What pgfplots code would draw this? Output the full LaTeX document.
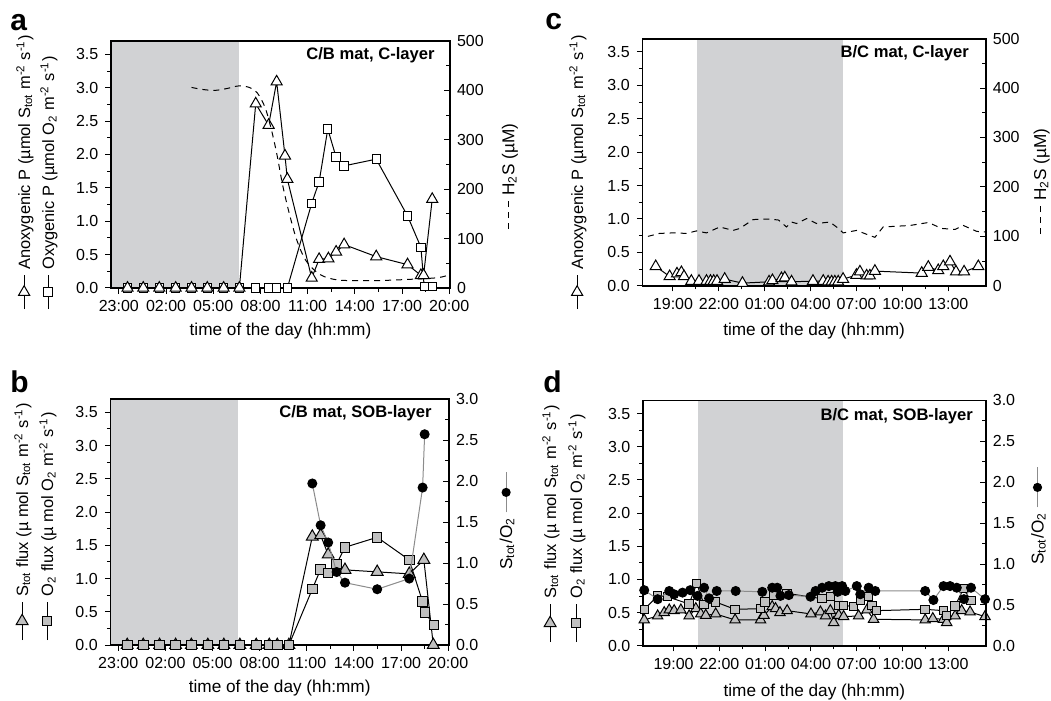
\documentclass[border=0pt]{standalone}
\usepackage{fontspec}
\setmainfont{Liberation Sans}
\usepackage{pgfplots}
\pgfplotsset{compat=1.18}
\usetikzlibrary{plotmarks}

\definecolor{shade}{RGB}{209,210,212}
\definecolor{mkgray}{RGB}{192,192,192}
\definecolor{lngray}{RGB}{140,140,140}

\newcommand{\lbl}{\fontsize{8.6}{10}\selectfont}
\newcommand{\ylbl}{\fontsize{8.2}{10}\selectfont}
\newcommand{\ttl}{\fontsize{8.3}{10}\selectfont\bfseries}
\newcommand{\pnl}{\fontsize{15}{17}\selectfont\bfseries}
\newcommand{\lo}[1]{\textsubscript{#1}}
\newcommand{\hi}[1]{\textsuperscript{#1}}

\pgfplotsset{
  panel/.style={
    scale only axis, anchor=south west,
    axis line style={line width=0.9pt},
    tick style={line width=0.5pt, black},
    major tick length=2.8pt, minor tick length=1.8pt,
    tick align=outside,
    xtick pos=bottom, ytick pos=left,
    minor x tick num=1, minor y tick num=1,
    ymin=0, ymax=3.7,
    ytick={0,0.5,1,1.5,2,2.5,3,3.5},
    yticklabel style={/pgf/number format/.cd, fixed, fixed zerofill, precision=1},
    tick label style={font=\fontsize{8}{9}\selectfont},
    /pgf/number format/assume math mode=true,
    label style={font=\lbl},
    xlabel={time of the day (hh:mm)},
    axis on top,
  },
  rightax/.style={
    scale only axis, anchor=south west,
    axis y line*=right, axis x line=none,
    axis line style={line width=0.9pt},
    tick style={line width=0.5pt, black},
    major tick length=2.8pt, minor tick length=1.8pt,
    tick align=inside, ytick pos=right,
    minor y tick num=1,
    tick label style={font=\fontsize{8}{9}\selectfont},
    /pgf/number format/assume math mode=true,
  },
  abx/.style={xmin=22.5, xmax=44.05, xtick={23,26,29,32,35,38,41,44},
    xticklabels={23:00,02:00,05:00,08:00,11:00,14:00,17:00,20:00}},
  cdx/.style={xmin=17, xmax=39.45, xtick={19,22,25,28,31,34,37},
    xticklabels={19:00,22:00,01:00,04:00,07:00,10:00,13:00}},
  ratio/.style={ymin=0, ymax=3, ytick={0,0.5,1,1.5,2,2.5,3},
    yticklabel style={/pgf/number format/.cd, fixed, fixed zerofill, precision=1}},
  hs/.style={ymin=0, ymax=500, ytick={0,100,200,300,400,500}},
  triW/.style={black, line width=0.5pt, mark=triangle*, mark size=3.2pt,
    mark options={fill=white, draw=black, solid}},
  sqW/.style={black, line width=0.5pt, mark=square*, mark size=2.1pt,
    mark options={fill=white, draw=black, solid}},
  triG/.style={black, line width=0.5pt, mark=triangle*, mark size=3.4pt,
    mark options={fill=mkgray, draw=black, solid}},
  sqG/.style={black, line width=0.5pt, mark=square*, mark size=2.4pt,
    mark options={fill=mkgray, draw=black, solid}},
  circ/.style={lngray, line width=0.5pt, mark=*, mark size=2.25pt,
    mark options={fill=black, draw=black, solid}},
  hsline/.style={black, line width=0.5pt, dash pattern=on 3pt off 2.5pt},
}

\newsavebox{\symtriW}
\newsavebox{\symtriG}
\newsavebox{\symsqW}
\newsavebox{\symsqG}
\newsavebox{\symcirc}
\newsavebox{\symdash}

\begin{document}%
\sbox{\symtriW}{\tikz[baseline=-3pt]{\draw[line width=0.5pt] (0,0)--(17pt,0);%
  \begin{scope}[shift={(8.5pt,0)}, rotate=-90]\pgfsetlinewidth{0.5pt}\pgfsetfillcolor{white}\pgfsetplotmarksize{3.2pt}\pgfuseplotmark{triangle*}\end{scope}}}%
\sbox{\symtriG}{\tikz[baseline=-3pt]{\draw[line width=0.5pt] (0,0)--(19pt,0);%
  \begin{scope}[shift={(9.5pt,0)}, rotate=-90]\pgfsetlinewidth{0.5pt}\pgfsetfillcolor{mkgray}\pgfsetplotmarksize{3.4pt}\pgfuseplotmark{triangle*}\end{scope}}}%
\sbox{\symsqW}{\tikz[baseline=-3pt]{\draw[line width=0.5pt] (0,0)--(17pt,0);%
  \begin{scope}[shift={(8.5pt,0)}]\pgfsetlinewidth{0.5pt}\pgfsetfillcolor{white}\pgfsetplotmarksize{2.3pt}\pgfuseplotmark{square*}\end{scope}}}%
\sbox{\symsqG}{\tikz[baseline=-3pt]{\draw[line width=0.5pt] (0,0)--(19pt,0);%
  \begin{scope}[shift={(9.5pt,0)}]\pgfsetlinewidth{0.5pt}\pgfsetfillcolor{mkgray}\pgfsetplotmarksize{2.4pt}\pgfuseplotmark{square*}\end{scope}}}%
\sbox{\symcirc}{\tikz[baseline=-3pt]{\draw[line width=0.5pt, lngray] (0,0)--(20pt,0);%
  \fill[black] (10pt,0) circle (2.3pt);}}%
\sbox{\symdash}{\tikz[baseline=-3pt]{\draw[line width=0.5pt, dash pattern=on 3pt off 2.5pt] (0,0)--(14pt,0);}}%
\begin{tikzpicture}
\useasboundingbox (0,0) rectangle (525.5pt,-350.5pt);

% ---------------- panel a ----------------
\begin{axis}[panel, abx, at={(55.5pt,-144pt)}, width=169.5pt, height=123.5pt,
  xlabel style={at={(axis description cs:0.5,-0.174)}, anchor=center}]
\addplot[fill=shade, draw=none, forget plot] coordinates {(22,-1) (30.62,-1) (30.62,4) (22,4)} -- cycle;
\addplot[sqW] coordinates {(23.55,0) (24.55,0) (25.57,0) (26.61,0) (27.62,0) (28.62,0) (29.66,0) (30.66,0)
  (31.70,0) (32.52,0) (33.03,0) (33.71,0) (35.26,1.27) (35.73,1.59) (36.28,2.38) (36.81,1.96)
  (37.32,1.83) (39.36,1.93) (41.35,1.08) (42.20,0.61) (42.41,0.02) (42.94,0.02)};
\addplot[triW] coordinates {(23.55,0) (24.55,0) (25.57,0) (26.61,0) (27.62,0) (28.62,0) (29.66,0) (30.66,0)
  (31.70,2.76) (32.52,2.44) (33.03,3.09) (33.56,1.98) (33.71,1.63) (35.26,0.15) (35.73,0.43)
  (36.32,0.44) (36.81,0.54) (37.32,0.65) (39.36,0.47) (41.35,0.35) (42.20,0.19) (42.37,0.19) (42.92,1.33)};
\node[anchor=east, inner sep=0, font=\ttl, xshift=-7.5pt, yshift=-7pt] at (rel axis cs:1,1) {C/B mat, C-layer};
\end{axis}
\begin{axis}[rightax, abx, hs, at={(55.5pt,-144pt)}, width=169.5pt, height=123.5pt]
\addplot[hsline, smooth] coordinates {(27.62,406) (28.3,402) (29.1,400) (29.9,404) (30.6,409) (31.3,406)
  (31.8,395) (32.3,365) (32.7,320) (33.05,270) (33.4,210) (33.8,155) (34.3,98) (34.9,55) (35.8,27)
  (37.0,16) (39.4,15) (41.8,18) (43.3,21) (44.05,27)};
\end{axis}

% ---------------- panel b ----------------
\begin{axis}[panel, abx, at={(55.2pt,-322.5pt)}, width=169.3pt, height=123pt,
  xlabel style={at={(axis description cs:0.5,-0.175)}, anchor=center}]
\addplot[fill=shade, draw=none, forget plot] coordinates {(22,-1) (30.62,-1) (30.62,4) (22,4)} -- cycle;
\addplot[triG] coordinates {(23.57,0) (24.59,0) (25.63,0) (26.65,0) (27.65,0) (28.7,0) (29.72,0) (30.74,0)
  (31.78,0) (32.61,0) (33.12,0) (33.86,0) (35.35,1.63) (35.88,1.65) (36.36,1.36) (37.43,1.13)
  (39.48,1.10) (41.52,1.07) (42.45,1.28) (43.05,0)};
\addplot[sqG] coordinates {(23.57,0) (24.59,0) (25.63,0) (26.65,0) (27.65,0) (28.7,0) (29.72,0) (30.74,0)
  (31.78,0) (32.61,0) (33.12,0) (33.86,0) (35.35,0.84) (35.88,1.14) (36.36,1.08) (36.9,1.22)
  (37.43,1.47) (39.48,1.62) (41.52,1.28) (42.37,0.65) (42.52,0.49) (43.09,0.30)};
\node[anchor=east, inner sep=0, font=\ttl, xshift=-8.5pt, yshift=-7pt] at (rel axis cs:1,1) {C/B mat, SOB-layer};
\end{axis}
\begin{axis}[rightax, abx, ratio, at={(55.2pt,-322.5pt)}, width=169.3pt, height=123pt]
\addplot[circ] coordinates {(35.35,1.97) (35.88,1.46) (36.36,1.25) (36.9,0.89) (37.43,0.76)
  (39.48,0.68) (41.52,0.81) (42.37,1.92) (42.5,2.57)};
\end{axis}

% ---------------- panel c ----------------
\begin{axis}[panel, cdx, at={(321.2pt,-142.9pt)}, width=171.7pt, height=123.6pt,
  xlabel style={at={(axis description cs:0.5,-0.183)}, anchor=center}]
\addplot[fill=shade, draw=none, forget plot] coordinates {(20.57,-1) (30.09,-1) (30.09,4) (20.57,4)} -- cycle;
\addplot[triW] coordinates {(17.87,0.29) (18.78,0.14) (19.26,0.18) (19.55,0.20) (19.72,0.14) (20.2,0.07)
  (20.7,0.07) (21.19,0.07) (21.45,0.07) (21.66,0.07) (21.88,0.07) (22.38,0.10) (23.54,0.04)
  (25.28,0.06) (25.5,0.08) (26.09,0.11) (26.31,0.12) (26.75,0.06) (28.15,0.07) (28.82,0.07)
  (29.14,0.06) (29.37,0.06) (29.58,0.06) (29.8,0.06) (30.12,0.10) (30.99,0.16) (31.22,0.21)
  (31.66,0.15) (31.87,0.15) (32.2,0.22) (35.26,0.19) (35.69,0.28) (36.34,0.23) (36.67,0.29)
  (37.11,0.36) (37.5,0.21) (38.03,0.21) (38.96,0.29)};
\node[anchor=east, inner sep=0, font=\ttl, xshift=-8.3pt, yshift=-7.3pt] at (rel axis cs:1,1) {B/C mat, C-layer};
\end{axis}
\begin{axis}[rightax, cdx, hs, at={(321.2pt,-142.9pt)}, width=171.7pt, height=123.6pt]
\addplot[hsline] coordinates {(17.36,100) (18.13,106) (19.0,107) (19.88,106) (20.53,111) (21.19,107)
  (22.06,119) (22.93,112) (23.37,116) (24.24,134) (25.33,135) (25.9,133) (26.42,119) (26.75,129)
  (27.08,126) (27.73,136) (28.38,126) (29.26,129) (29.69,119) (30.13,107) (31.0,112) (31.76,103)
  (32.2,98) (32.74,119) (34.49,122) (35.69,128) (36.57,116) (37.44,114) (37.98,122) (38.86,110) (39.4,109)};
\end{axis}

% ---------------- panel d ----------------
\begin{axis}[panel, cdx, at={(321.5pt,-322.9pt)}, width=171.4pt, height=122.7pt,
  xlabel style={at={(axis description cs:0.5,-0.189)}, anchor=center}]
\addplot[fill=shade, draw=none, forget plot] coordinates {(20.6,-1) (30.1,-1) (30.1,4) (20.6,4)} -- cycle;
\addplot[triG, mark size=3pt] coordinates {(17.08,0.39) (17.96,0.45) (18.39,0.50) (18.72,0.54) (19.04,0.53)
  (19.48,0.54) (20.02,0.45) (20.46,0.56) (20.78,0.48) (21.11,0.46) (21.76,0.48) (23.03,0.39)
  (24.70,0.39) (24.92,0.46) (25.46,0.59) (25.68,0.56) (25.97,0.50) (26.44,0.53) (28.00,0.48)
  (28.62,0.51) (28.95,0.45) (29.27,0.53) (29.49,0.35) (29.82,0.46) (30.14,0.44) (31.12,0.45)
  (31.67,0.54) (32.10,0.40) (35.48,0.39) (35.98,0.41) (36.68,0.40) (36.89,0.35) (37.44,0.45)
  (37.87,0.53) (38.42,0.51) (39.40,0.44)};
\addplot[sqG, mark size=2.1pt] coordinates {(17.08,0.55) (17.96,0.75) (18.60,0.74) (20.02,0.63) (20.52,0.94)
  (21.00,0.62) (21.76,0.66) (23.03,0.55) (24.70,0.56) (24.99,0.66) (25.57,0.76) (26.44,0.79)
  (28.73,0.71) (29.27,0.74) (29.82,0.61) (30.14,0.61) (30.80,0.59) (31.23,0.69) (31.78,0.74)
  (32.00,0.61) (32.28,0.53) (35.48,0.55) (36.68,0.53) (36.89,0.46) (37.44,0.60) (37.98,0.86) (38.48,0.68)};
\node[anchor=east, inner sep=0, font=\ttl, xshift=-6.3pt, yshift=-8pt] at (rel axis cs:1,1) {B/C mat, SOB-layer};
\end{axis}
\begin{axis}[rightax, cdx, ratio, at={(321.5pt,-322.9pt)}, width=171.4pt, height=122.7pt]
\addplot[circ] coordinates {(17.08,0.68) (17.96,0.57) (18.72,0.67) (19.04,0.63) (19.59,0.65) (20.09,0.68)
  (20.57,0.61) (21.00,0.71) (21.33,0.58) (21.83,0.67) (23.07,0.67) (24.81,0.66) (25.46,0.71)
  (25.79,0.71) (26.00,0.61) (26.55,0.62) (27.97,0.60) (28.30,0.67) (28.73,0.71) (29.17,0.73)
  (29.60,0.73) (29.75,0.66) (30.04,0.73) (30.25,0.67) (31.00,0.73) (31.23,0.63) (31.78,0.71)
  (32.21,0.67) (35.48,0.67) (36.02,0.56) (36.68,0.73) (37.11,0.73) (37.55,0.71) (38.02,0.57)
  (38.48,0.71) (39.40,0.57)};
\end{axis}

% ---------------- panel letters ----------------
\node[anchor=base west, inner sep=0, font=\pnl] at (5pt,-15.5pt) {a};
\node[anchor=base west, inner sep=0, font=\pnl] at (5pt,-196pt) {b};
\node[anchor=base west, inner sep=0, font=\pnl] at (272.5pt,-15pt) {c};
\node[anchor=base west, inner sep=0, font=\pnl] at (271.5pt,-196pt) {d};

% ---------------- y labels ----------------
\node[rotate=90, anchor=west, inner sep=0, font=\ylbl] at (12.5pt,-155pt)
  {\usebox{\symtriW}\hspace{2.5pt}Anoxygenic P (µmol S\lo{tot} m\hi{-2} s\hi{-1})};
\node[rotate=90, anchor=west, inner sep=0, font=\ylbl] at (24.5pt,-155pt)
  {\usebox{\symsqW}\hspace{2.5pt}Oxygenic P (µmol O\lo{2} m\hi{-2} s\hi{-1})};
\node[rotate=90, anchor=west, inner sep=0, font=\lbl] at (255pt,-115pt)
  {\usebox{\symdash}\hspace{2.5pt}H\lo{2}S (µM)};

\node[rotate=90, anchor=west, inner sep=0, font=\ylbl] at (11.5pt,-320.5pt)
  {\usebox{\symtriG}\hspace{2.5pt}S\lo{tot} flux (µ mol S\lo{tot} m\hi{-2} s\hi{-1})};
\node[rotate=90, anchor=west, inner sep=0, font=\ylbl] at (24pt,-320.5pt)
  {\usebox{\symsqG}\hspace{2.5pt}O\lo{2} flux (µ mol O\lo{2} m\hi{-2} s\hi{-1})};
\node[rotate=90, anchor=west, inner sep=0, font=\lbl] at (253.5pt,-285pt)
  {S\lo{tot}/O\lo{2}\hspace{2.5pt}\usebox{\symcirc}};

\node[rotate=90, anchor=west, inner sep=0, font=\ylbl] at (289pt,-155pt)
  {\usebox{\symtriW}\hspace{2.5pt}Anoxygenic P (µmol S\lo{tot} m\hi{-2} s\hi{-1})};
\node[rotate=90, anchor=west, inner sep=0, font=\lbl] at (520.8pt,-117.5pt)
  {\usebox{\symdash}\hspace{2.5pt}H\lo{2}S (µM)};

\node[rotate=90, anchor=west, inner sep=0, font=\ylbl] at (275.5pt,-321.5pt)
  {\usebox{\symtriG}\hspace{2.5pt}S\lo{tot} flux (µ mol S\lo{tot} m\hi{-2} s\hi{-1})};
\node[rotate=90, anchor=west, inner sep=0, font=\ylbl] at (288.5pt,-321.5pt)
  {\usebox{\symsqG}\hspace{2.5pt}O\lo{2} flux (µ mol O\lo{2} m\hi{-2} s\hi{-1})};
\node[rotate=90, anchor=west, inner sep=0, font=\lbl] at (519.2pt,-282.5pt)
  {S\lo{tot}/O\lo{2}\hspace{2.5pt}\usebox{\symcirc}};
\end{tikzpicture}%
\end{document}
